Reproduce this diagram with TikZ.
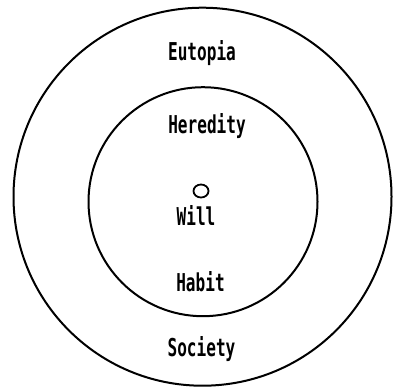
\documentclass[tikz,border=0pt]{standalone}
\usepackage{fontspec}
\newfontfamily\twfont{DejaVu Sans Mono}
\usetikzlibrary{shapes.geometric}
\tikzset{
  ring/.style={circle, draw, line width=2pt, inner sep=0pt, outer sep=0pt},
  lbl/.style={anchor=base, inner sep=0pt, font=\twfont\bfseries\fontsize{16.4}{18}\selectfont},
  dot/.style={ellipse, draw, line width=1.8pt, inner sep=0pt, minimum width=15pt, minimum height=13pt}
}
\newcommand{\tall}[1]{\scalebox{0.98}[1.5]{#1}}
\begin{document}
\begin{tikzpicture}[x=1pt, y=-1pt]
  \useasboundingbox (0,0) rectangle (395,389);
  \node[ring, minimum size=378pt] (outer) at (202.5,196.7) {};
  \node[ring, minimum size=229pt] (inner) at (203,201.7) {};
  \node[dot] (will dot) at (201,191) {};
  \node[lbl] (eutopia) at (202,60) {\tall{Eutopia}};
  \node[lbl] (heredity) at (207,133) {\tall{Heredity}};
  \node[lbl] (will) at (196,225) {\tall{Will}};
  \node[lbl] (habit) at (200.5,291) {\tall{Habit}};
  \node[lbl] (society) at (201.5,356) {\tall{Society}};
\end{tikzpicture}
\end{document}
